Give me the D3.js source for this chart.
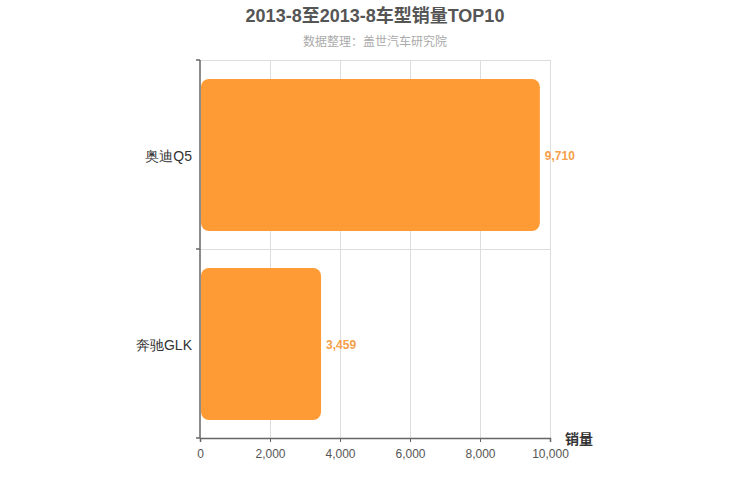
<!DOCTYPE html>
<html><head><meta charset="utf-8">
<script src="https://cdn.jsdelivr.net/npm/d3@7"></script>
<style>body{margin:0;background:#fff}svg{display:block;font-family:"Liberation Sans",Arial,"Noto Sans CJK SC",sans-serif}</style>
</head><body><svg id="c" width="750" height="500"></svg>
<script>
const categories = ["奥迪Q5", "奔驰GLK"];
const sales = [9710, 3459];
const xTicks = [0, 2000, 4000, 6000, 8000, 10000];
const titleText = "2013-8至2013-8车型销量TOP10";
const subtitleText = "数据整理：盖世汽车研究院";
const axisName = "销量";

const svg = d3.select("#c");
const m = {l:200, r:550, t:60, b:438};
const x = d3.scaleLinear().domain([0, 10000]).range([m.l, m.r]);
const y = d3.scaleBand().domain(categories).range([m.t, m.b]).paddingInner(0.2).paddingOuter(0.1);
const yb = d3.scaleBand().domain(categories).range([m.t, m.b]);

svg.append("text").attr("x", 375).attr("y", 22).attr("text-anchor","middle")
  .attr("font-size", 18).attr("font-weight","bold").attr("fill","#555").text(titleText);
svg.append("text").attr("x", 375).attr("y", 46).attr("text-anchor","middle")
  .attr("font-size", 12).attr("fill","#aaa").text(subtitleText);

// grid
const g = svg.append("g");
g.selectAll(".vg").data(xTicks.slice(1)).join("line")
  .attr("x1", d=>x(d)).attr("x2", d=>x(d)).attr("y1", m.t).attr("y2", m.b)
  .attr("stroke","#ddd").attr("stroke-width",1).attr("shape-rendering","crispEdges");
const hb = [m.t].concat(categories.slice(1).map(c=>yb(c)));
g.selectAll(".hg").data(hb).join("line")
  .attr("x1", m.l).attr("x2", m.r).attr("y1", d=>d).attr("y2", d=>d)
  .attr("stroke","#ddd").attr("stroke-width",1).attr("shape-rendering","crispEdges");

// bars
svg.selectAll(".bar").data(categories).join("rect")
  .attr("x", x(0)+1).attr("y", d=>y(d))
  .attr("width", (d,i)=>x(sales[i])-x(0)-1).attr("height", y.bandwidth()+1)
  .attr("rx", 8).attr("ry", 8).attr("fill", "#FF9B35");

svg.selectAll(".lbl").data(categories).join("text")
  .attr("x", (d,i)=>x(sales[i])+5).attr("y", d=>y(d)+y.bandwidth()/2+5)
  .attr("font-size", 12).attr("font-weight","bold").attr("fill","#F5A04A")
  .text((d,i)=>d3.format(",")(sales[i]));

// x axis
const xa = svg.append("g").attr("transform",`translate(0,${m.b})`)
  .call(d3.axisBottom(x).tickValues(xTicks).tickFormat(d3.format(",")).tickSize(4));
xa.select(".domain").attr("stroke","#666").attr("stroke-width",1.5);
xa.selectAll(".tick line").attr("stroke","#666");
xa.selectAll("text").attr("font-size",12).attr("fill","#555").attr("dy","1.1em");

// y axis
const ya = svg.append("g").attr("transform",`translate(${m.l},0)`)
  .call(d3.axisLeft(yb).tickSize(0).tickPadding(8));
ya.select(".domain").attr("stroke","#666").attr("stroke-width",1.5).attr("d", `M0,${m.t}V${m.b}`);
ya.selectAll("text").attr("font-size",14).attr("fill","#333").attr("dy","0.45em");
ya.selectAll(".tick line").remove();
svg.append("g").selectAll("line").data(hb.concat([m.b])).join("line")
  .attr("x1", m.l-4).attr("x2", m.l).attr("y1", d=>d).attr("y2", d=>d)
  .attr("stroke","#666").attr("stroke-width",1.5);

svg.append("text").attr("x", 565).attr("y", 444).attr("font-size", 14)
  .attr("font-weight","bold").attr("fill","#333").text(axisName);
</script></body></html>
